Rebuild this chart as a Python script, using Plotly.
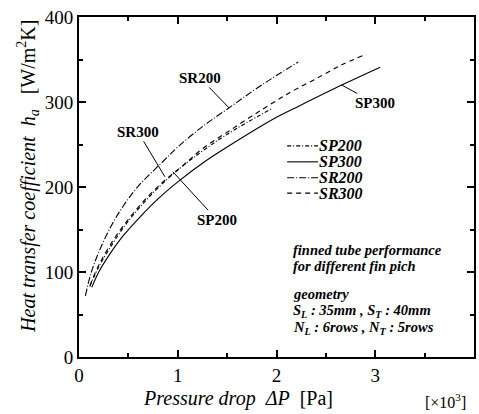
import plotly.graph_objects as go

# Data (pressure drop in 10^3 Pa, heat transfer coeff in W/m2K)
dp_sp200 = [0.11, 0.2, 0.35, 0.5, 0.7, 0.95, 1.2, 1.5, 1.95]
ha_sp200 = [83, 106, 135, 160, 187, 215, 238, 262, 292]

dp_sp300 = [0.13, 0.2, 0.3, 0.45, 0.62, 0.8, 1.0, 1.25, 1.5, 2.0, 2.24, 2.66, 3.05]
ha_sp300 = [82, 100, 119, 143, 165, 186, 206, 228, 247, 282, 296, 320, 341]

dp_sr200 = [0.065, 0.12, 0.21, 0.33, 0.45, 0.6, 0.85, 1.0, 1.25, 1.53, 1.85, 2.22]
ha_sr200 = [72, 98, 126, 155, 178, 201, 230, 247, 271, 294, 320, 347]

dp_sr300 = [0.11, 0.2, 0.35, 0.52, 0.7, 0.87, 1.06, 1.25, 1.56, 1.88, 2.15, 2.41, 2.65, 2.88]
ha_sr300 = [84, 108, 138, 165, 189, 208, 226, 245, 269, 293, 312, 328, 343, 355]

series_names = ["SP200", "SP300", "SR200", "SR300"]
x_ticks = [0, 1, 2, 3, 4]
y_ticks = [0, 100, 200, 300, 400]

SERIF = "Liberation Serif"

styles = {
    "SP200": "4px,2px,1px,2px",
    "SP300": "solid",
    "SR200": "7px,2px,1px,2px",
    "SR300": "5px,4px",
}
data = {
    "SP200": (dp_sp200, ha_sp200),
    "SP300": (dp_sp300, ha_sp300),
    "SR200": (dp_sr200, ha_sr200),
    "SR300": (dp_sr300, ha_sr300),
}

fig = go.Figure()
for name in series_names:
    xs, ys = data[name]
    fig.add_trace(go.Scatter(
        x=xs, y=ys, mode="lines", name=name, showlegend=False,
        line=dict(color="black", width=1.1, shape="spline", dash=styles[name]),
    ))

# Manual legend (paper coordinates)
leg_y = [0.621, 0.574, 0.527, 0.482]
for name, yy in zip(series_names, leg_y):
    fig.add_shape(type="line", xref="paper", yref="paper", x0=0.527, x1=0.605,
                  y0=yy, y1=yy, line=dict(color="black", width=1.1, dash=styles[name]))
    fig.add_annotation(xref="paper", yref="paper", x=0.603, y=yy, xanchor="left",
                       yanchor="middle", showarrow=False, text="<b><i>" + name + "</i></b>",
                       font=dict(family=SERIF, size=16, color="black"))

# Curve labels with leader lines
labels = [
    ("SR200", 1.52, 293, -29, -30),
    ("SR300", 0.87, 212, -27, -45),
    ("SP200", 0.95, 218, 44, 48),
    ("SP300", 2.66, 320, 33, 18),
]
for txt, x, y, ax, ay in labels:
    fig.add_annotation(x=x, y=y, ax=ax, ay=ay, text="<b>" + txt + "</b>", showarrow=True,
                       arrowhead=0, arrowwidth=1, arrowcolor="black",
                       font=dict(family=SERIF, size=15, color="black"))

note_lines = [
    ("<b><i>finned tube performance</i></b>", 0.315),
    ("<b><i>for different fin pich</i></b>", 0.268),
    ("<b><i>geometry</i></b>", 0.185),
    ("<b><i>S<sub>L</sub> : 35mm , S<sub>T</sub> : 40mm</i></b>", 0.134),
    ("<b><i>N<sub>L</sub> : 6rows , N<sub>T</sub> : 5rows</i></b>", 0.084),
]
for txt, yy in note_lines:
    fig.add_annotation(xref="paper", yref="paper", x=0.537, y=yy, xanchor="left",
                       yanchor="middle", showarrow=False, text=txt,
                       font=dict(family=SERIF, size=14.5, color="black"))

# Axis titles
fig.add_annotation(xref="paper", yref="paper", x=0.403, y=-0.121, xanchor="center",
                   yanchor="middle", showarrow=False,
                   text="<i>Pressure drop  ΔP</i>  [Pa]",
                   font=dict(family=SERIF, size=20, color="black"))
fig.add_annotation(xref="paper", yref="paper", x=0.985, y=-0.13, xanchor="right",
                   yanchor="middle", showarrow=False, text="[×10<sup>3</sup>]",
                   font=dict(family=SERIF, size=16, color="black"))
fig.add_annotation(xref="paper", yref="paper", x=-0.129, y=0.53, xanchor="center",
                   yanchor="middle", showarrow=False, textangle=-90,
                   text="<i>Heat transfer coefficient  h<sub>a</sub></i>   [W/m<sup>2</sup>K]",
                   font=dict(family=SERIF, size=20, color="black"))

axis_common = dict(
    showgrid=False, zeroline=False, showline=True, linecolor="black", linewidth=2,
    mirror="allticks", ticks="inside", ticklen=7, tickwidth=1.5, tickcolor="black",
    tickfont=dict(family=SERIF, size=19, color="black"), automargin=False,
)
fig.update_xaxes(
    range=[0, 4], tickvals=x_ticks, ticktext=[str(v) for v in x_ticks],
    minor=dict(dtick=0.5, ticks="inside", ticklen=4, tickcolor="black"),
    **axis_common,
)
fig.update_yaxes(
    range=[0, 400], tickvals=y_ticks, ticktext=[str(v) for v in y_ticks],
    minor=dict(dtick=50, ticks="inside", ticklen=4, tickcolor="black"),
    **axis_common,
)

fig.update_layout(
    width=479, height=414,
    margin=dict(l=79, r=5, t=17, b=57),
    paper_bgcolor="white", plot_bgcolor="white",
    showlegend=False,
)

# Remove the default page margin so the figure fills the window exactly.
fig.write_html(
    "out.html",
    config={"displayModeBar": False},
    post_script="document.body.style.margin='0px';document.body.style.overflow='hidden';",
)
